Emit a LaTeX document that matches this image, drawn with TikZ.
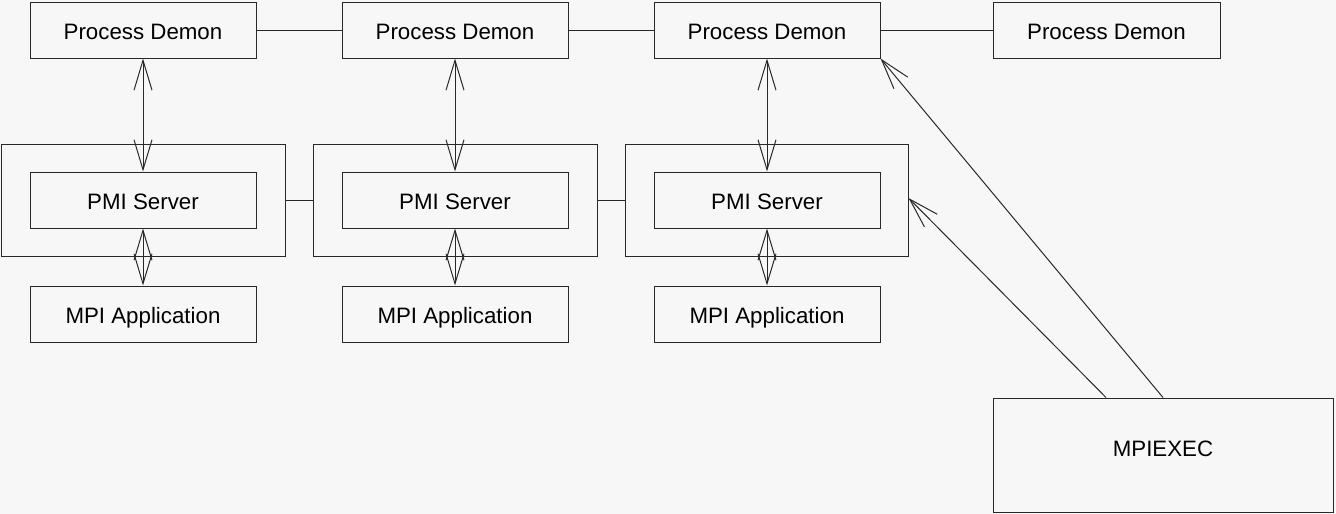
\documentclass[tikz,border=0pt]{standalone}
\usepackage{fontspec}
\setmainfont{Liberation Sans}
\usetikzlibrary{arrows.meta}
\definecolor{bgc}{RGB}{247,247,247}
\definecolor{lnc}{RGB}{40,40,40}
\begin{document}
\begin{tikzpicture}[x=1pt,y=-1pt,
  box/.style={draw=lnc, line width=1pt, rectangle, inner sep=0pt,
    minimum width=226pt, minimum height=56pt,
    text height=19pt, text depth=0pt,
    font=\fontsize{22.3}{27}\selectfont},
  outerbox/.style={draw=lnc, line width=1pt, rectangle, inner sep=0pt,
    minimum height=112pt},
  conn/.style={draw=lnc, line width=1pt},
  barb/.tip={Straight Barb[length=30pt,width=18pt]},
  twoway/.style={conn, barb-barb},
  oneway/.style={conn, -barb}]
\fill[bgc] (0,0) rectangle (1336,514);
\useasboundingbox (0,0) rectangle (1336,514);

% outer PMI boxes
\node[outerbox, minimum width=284pt] (o1) at (143,200) {};
\node[outerbox, minimum width=284pt] (o2) at (455,200) {};
\node[outerbox, minimum width=283pt] (o3) at (766.5,200) {};

% process demons
\node[box] (pd1) at (143,30) {Process Demon};
\node[box] (pd2) at (455,30) {Process Demon};
\node[box] (pd3) at (767,30) {Process Demon};
\node[box, minimum width=227pt] (pd4) at (1106.5,30) {Process Demon};

% PMI servers
\node[box] (pmi1) at (143,200) {PMI Server};
\node[box] (pmi2) at (455,200) {PMI Server};
\node[box] (pmi3) at (767,200) {PMI Server};

% MPI applications
\node[box] (app1) at (143,314) {MPI Application};
\node[box] (app2) at (455,314) {MPI Application};
\node[box] (app3) at (767,314) {MPI Application};

% MPIEXEC
\node[box, minimum width=340pt, minimum height=114pt, text height=16pt, text depth=13pt] (mx) at (1163,455) {MPIEXEC};

% horizontal links
\draw[conn] (pd1.east) -- (pd2.west);
\draw[conn] (pd2.east) -- (pd3.west);
\draw[conn] (pd3.east) -- (pd4.west);
\draw[conn] (o1.east) -- (o2.west);
\draw[conn] (o2.east) -- (o3.west);

% vertical two-way arrows
\draw[twoway] (pd1.south) -- (pmi1.north);
\draw[twoway] (pd2.south) -- (pmi2.north);
\draw[twoway] (pd3.south) -- (pmi3.north);
\draw[twoway] (pmi1.south) -- (app1.north);
\draw[twoway] (pmi2.south) -- (app2.north);
\draw[twoway] (pmi3.south) -- (app3.north);

% MPIEXEC arrows
\draw[oneway] (mx.north) -- (pd3.south east);
\draw[oneway] ([xshift=-57pt]mx.north) -- ([yshift=2pt]o3.east);
\end{tikzpicture}
\end{document}
